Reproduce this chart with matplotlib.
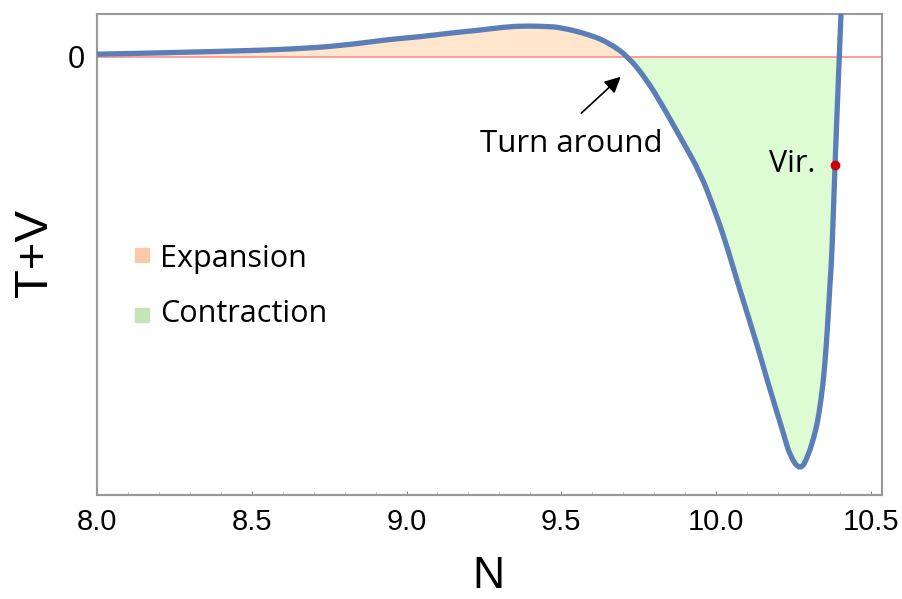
import numpy as np
import matplotlib.pyplot as plt
from matplotlib.path import Path
from matplotlib.patches import PathPatch

# ------------------ Data ------------------
n_vals = [8.000, 8.139, 8.300, 8.462, 8.624, 8.785, 8.947, 9.044, 9.141, 9.237,
          9.334, 9.399, 9.447, 9.496, 9.593, 9.657, 9.716, 9.776, 9.829, 9.889,
          9.949, 9.991, 10.029, 10.070, 10.104, 10.137, 10.168, 10.201, 10.217,
          10.239, 10.272, 10.297, 10.320, 10.331, 10.346, 10.355, 10.362, 10.368,
          10.374, 10.384, 10.398, 10.404]
e_vals = [0.006, 0.008, 0.011, 0.014, 0.018, 0.026, 0.042, 0.048, 0.057, 0.064,
          0.073, 0.074, 0.073, 0.071, 0.053, 0.032, 0.000, -0.056, -0.121, -0.201,
          -0.281, -0.362, -0.443, -0.547, -0.628, -0.708, -0.789, -0.870, -0.909,
          -0.966, -1.000, -0.966, -0.909, -0.870, -0.789, -0.708, -0.628, -0.547,
          -0.483, -0.262, 0.000, 0.113]

turn_idx = 16      # N = 9.716, T+V = 0
recoll_idx = 40    # N = 10.398, T+V = 0
vir_n, vir_e = 10.384, -0.262
x_ticks = [8.0, 8.5, 9.0, 9.5, 10.0, 10.5]
x_labels = ["8.0", "8.5", "9.0", "9.5", "10.0", "10.5"]

n = np.array(n_vals)
e = np.array(e_vals)


def smooth_path(xs, ys, close_to=None):
    # quadratic B-spline through the read points (rendered by matplotlib)
    pts = np.column_stack([xs, ys])
    verts = [pts[0]]
    codes = [Path.MOVETO]
    for i in range(1, len(pts) - 2):
        verts += [pts[i], (pts[i] + pts[i + 1]) / 2]
        codes += [Path.CURVE3, Path.CURVE3]
    verts += [pts[-2], pts[-1]]
    codes += [Path.CURVE3, Path.CURVE3]
    if close_to is not None:
        verts += [close_to, pts[0]]
        codes += [Path.LINETO, Path.CLOSEPOLY]
    return Path(verts, codes)


# ------------------ Plot ------------------
fig = plt.figure(figsize=(9.02, 5.99), dpi=100)
ax = fig.add_axes([0.1075, 0.1736, 0.870, 0.803])

exp_path = smooth_path(n[:turn_idx + 1], e[:turn_idx + 1], close_to=(n[0], 0))
con_path = smooth_path(n[turn_idx:recoll_idx + 1], e[turn_idx:recoll_idx + 1],
                       close_to=(n[turn_idx], 0))
ax.add_patch(PathPatch(exp_path, facecolor="#FFE6CC", edgecolor="none", zorder=1))
ax.add_patch(PathPatch(con_path, facecolor="#DDFCD4", edgecolor="none", zorder=1))
ax.axhline(0, color="#FF8C8C", lw=1.2, zorder=2)
ax.add_patch(PathPatch(smooth_path(n, e), facecolor="none", edgecolor="#5B7DB8",
                       lw=3.8, zorder=3))
ax.plot(vir_n, vir_e, "o", color="#CC0000", ms=6, zorder=4)

ax.set_xlim(8.0, 10.535)
ax.set_ylim(-1.059, 0.103)

ax.set_xticks(x_ticks)
ax.set_xticklabels(x_labels, family="Liberation Sans", fontsize=21)
ax.set_xticks(np.arange(8.0, 10.55, 0.1), minor=True)
ax.tick_params(axis="x", which="major", direction="in", length=3, color="#888888", pad=9)
ax.tick_params(axis="x", which="minor", direction="in", length=2, color="#aaaaaa")
ax.set_yticks([0])
ax.set_yticklabels(["0"], family="Liberation Sans", fontsize=22)
ax.tick_params(axis="y", length=0, pad=9)

for s in ax.spines.values():
    s.set_color("#999999")
    s.set_linewidth(1.5)

ax.set_xlabel("N", family="Liberation Sans", fontsize=32, va="baseline")
ax.xaxis.set_label_coords(0.4993, -0.1933)
ax.set_ylabel("T+V", family="Liberation Sans", fontsize=34)
ax.yaxis.label.set_rotation_mode("anchor")
ax.yaxis.label.set_va("baseline")
ax.yaxis.set_label_coords(-0.0641, 0.504)

# annotations
ax.annotate("", xy=(9.6985, -0.044), xytext=(9.558, -0.141),
            arrowprops=dict(arrowstyle="-|>", color="black", lw=1.2, mutation_scale=24))
ax.text(9.532, -0.230, "Turn around", family="Open Sans", fontsize=22.5,
        ha="center", va="baseline")
ax.text(10.320, -0.278, "Vir.", family="Open Sans", fontsize=22,
        ha="right", va="baseline")

# legend
ax.scatter([0.058], [0.499], marker="s", s=94, color="#F9C9A9", transform=ax.transAxes)
ax.scatter([0.058], [0.375], marker="s", s=94, color="#C5E5B5", transform=ax.transAxes)
ax.text(0.0805, 0.4746, "Expansion", family="Open Sans", fontsize=22,
        ha="left", va="baseline", transform=ax.transAxes)
ax.text(0.0805, 0.360, "Contraction", family="Open Sans", fontsize=22,
        ha="left", va="baseline", transform=ax.transAxes)

fig.savefig("out.png", dpi=100)
